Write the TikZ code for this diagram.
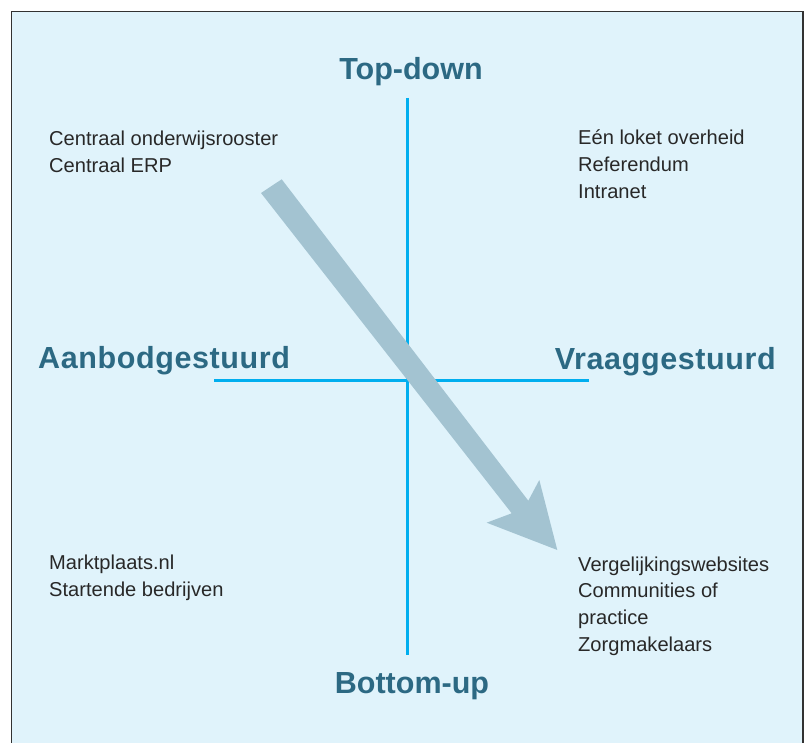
\documentclass[tikz,border=0pt]{standalone}
\usepackage{fontspec}
\setmainfont{Liberation Sans}
\definecolor{bgblue}{RGB}{224,243,251}
\definecolor{axisblue}{RGB}{0,174,239}
\definecolor{arrowblue}{RGB}{163,195,209}
\definecolor{headteal}{RGB}{44,105,131}
\definecolor{bodytxt}{RGB}{40,40,40}
\definecolor{framegray}{RGB}{50,50,50}
\tikzset{
  frameline/.style={draw=framegray, line width=1.5pt},
  axisline/.style={draw=axisblue, line width=2.2pt},
  bigarrow/.style={fill=arrowblue},
  heading/.style={font=\fontsize{30.5}{34}\selectfont\bfseries, text=headteal, inner sep=0pt},
  sideheading/.style={heading, font=\fontsize{30.5}{34}\selectfont\bfseries\addfontfeature{LetterSpace=2}},
  itemtext/.style={font=\fontsize{20.1}{26.7}\selectfont, text=bodytxt, inner sep=0pt, align=left, anchor=base west},
}
\begin{document}
\begin{tikzpicture}[x=1pt,y=-1pt]
\useasboundingbox (0,0) rectangle (808,743);
\fill[white] (0,0) rectangle (808,743);
\fill[bgblue] (11.5,11.5) rectangle (803,743);
\draw[frameline] (11.5,745) -- (11.5,11.5) -- (803,11.5) -- (803,745);

% axes
\coordinate (vtop) at (407.5,98);
\coordinate (vbot) at (407.5,655);
\coordinate (hleft) at (214,380.5);
\coordinate (hright) at (589,380.5);
\draw[axisline] (vtop) -- (vbot);
\draw[axisline] (hleft) -- (hright);

% big arrow
\coordinate (a1) at (261,193);
\coordinate (a2) at (281.7,179.3);
\coordinate (s2) at (528.3,500.7);
\coordinate (b2) at (539.3,480);
\coordinate (tip) at (557.3,550);
\coordinate (b1) at (486.7,522.7);
\coordinate (s1) at (511.7,513.3);
\fill[bigarrow] (a1) -- (a2) -- (s2) -- (b2) -- (tip) -- (b1) -- (s1) -- cycle;

% headings
\node[heading, anchor=base] (topdown) at (411,80) {Top-down};
\node[heading, anchor=base] (bottomup) at (412,693) {Bottom-up};
\node[sideheading, anchor=base west] (aanbod) at (38,368) {Aanbodgestuurd};
\node[sideheading, anchor=base east] (vraag) at (776,369) {Vraaggestuurd};

% quadrant texts (base anchor = baseline of last line)
\node[itemtext] (tl) at (49,172.7) {Centraal onderwijsrooster\\Centraal ERP};
\node[itemtext] (tr) at (578,198.4) {Eén loket overheid\\Referendum\\Intranet};
\node[itemtext] (bl) at (49,596.2) {Marktplaats.nl\\Startende bedrijven};
\node[itemtext] (br) at (578,651.1) {Vergelijkingswebsites\\Communities of\\practice\\Zorgmakelaars};
\end{tikzpicture}
\end{document}
